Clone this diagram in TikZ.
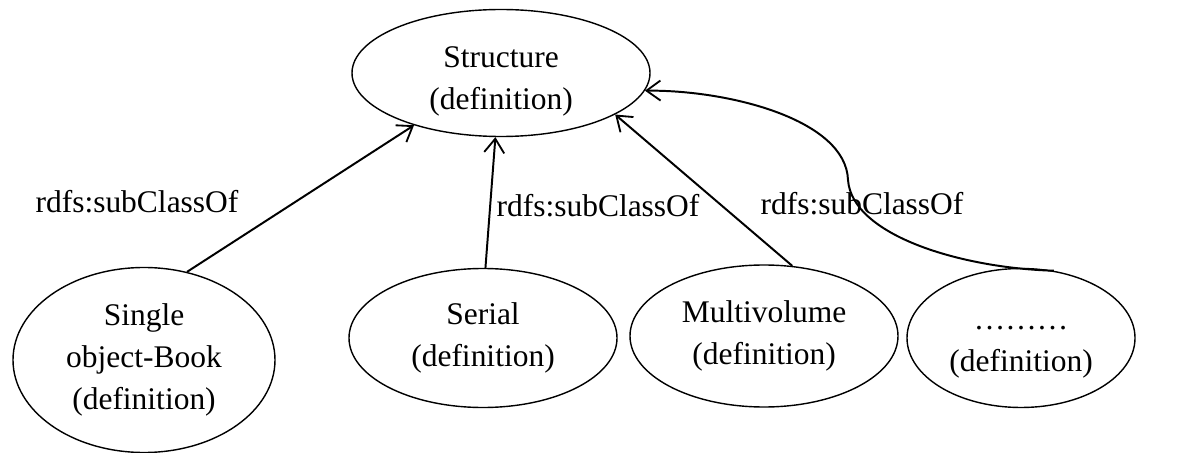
\documentclass[tikz,border=0pt]{standalone}
\usepackage{fontspec}
\setmainfont{Liberation Serif}
\usetikzlibrary{shapes.geometric,arrows.meta}
\tikzset{
    defn/.style={
    ellipse,draw=black,line width=1pt,inner sep=0pt,align=center,font=\fontsize{22.4}{30}\selectfont
    },
    rel/.style={
    font=\fontsize{22.4}{30}\selectfont
    },
    subclass/.style={
    line width=1.4pt,-{Straight Barb[length=3.5mm,width=5mm,line width=1.3pt]}
    },
}
\begin{document}
\begin{tikzpicture}
   \useasboundingbox (0,0) rectangle (29.475,-11.325);
   \node[defn,minimum width=7.45cm,minimum height=3.175cm] (structure) at (12.525,-1.825) {\rule{0pt}{0.95cm}Structure\\(definition)};
   \node[defn,minimum width=6.55cm,minimum height=4.625cm] (single) at (3.6,-9.0) {Single\\object-Book\\(definition)};
   \node[defn,minimum width=6.7cm,minimum height=3.475cm] (serial) at (12.075,-8.45) {Serial\\(definition)};
   \node[defn,minimum width=6.7cm,minimum height=3.55cm] (multi) at (19.1,-8.4) {Multivolume\\(definition)};
   \node[defn,minimum width=5.7cm,minimum height=3.475cm] (dots) at (25.525,-8.45) {\rule{0pt}{0.8cm}………\\(definition)};

   \node[rel] (subleft) at (3.425,-5.03) {rdfs:subClassOf};
   \node[rel] (submid) at (14.95,-5.15) {rdfs:subClassOf};
   \node[rel] (subright) at (21.55,-5.08) {rdfs:subClassOf};

   \coordinate (kink) at (21.2,-4.5);

   \path[subclass]
     (single.64) edge (structure.211)
     (serial.88) edge (structure.265)
     (multi.68) edge (structure.340);
   \draw[subclass] (dots.64) .. controls (24.0,-6.7) and (21.3,-5.875) .. (kink)
     .. controls (21.15,-3.0) and (18.25,-2.25) .. (structure.-7);
\end{tikzpicture}
\end{document}
